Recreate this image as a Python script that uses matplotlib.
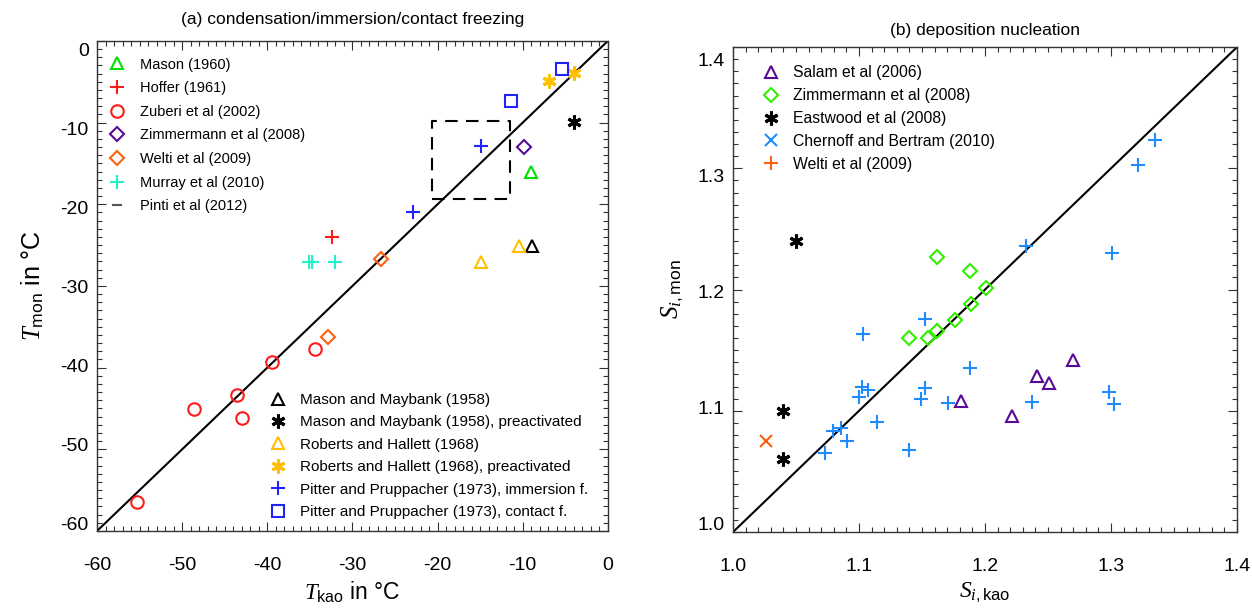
import matplotlib
matplotlib.use("Agg")
import matplotlib.pyplot as plt
import matplotlib.transforms as mtransforms
from matplotlib.lines import Line2D
from matplotlib.ticker import MultipleLocator

plt.rcParams['font.family'] = ['Liberation Sans', 'DejaVu Sans']
plt.rcParams['mathtext.fontset'] = 'custom'
plt.rcParams['mathtext.rm'] = 'Liberation Sans'
plt.rcParams['mathtext.it'] = 'Liberation Serif:italic'
plt.rcParams['mathtext.bf'] = 'Liberation Sans:bold'
plt.rcParams['axes.unicode_minus'] = False

# ---- panel (a): T_kao vs T_mon ----
mason60_x = [-9.0]
mason60_y = [-16.0]
hoffer_x = [-32.4]
hoffer_y = [-24.0]
zuberi_x = [-55.3, -48.6, -43.6, -43.0, -39.5, -34.4]
zuberi_y = [-56.4, -45.1, -43.4, -46.2, -39.3, -37.7]
zimm_a_x = [-9.9]
zimm_a_y = [-13.0]
welti_a_x = [-32.9, -26.7]
welti_a_y = [-36.3, -26.7]
murray_x = [-35.1, -34.7, -32.1]
murray_y = [-27.1, -27.1, -27.1]
pinti_box_x = [-20.6, -11.5]
pinti_box_y = [-19.3, -9.8]
mm58_x = [-8.9]
mm58_y = [-25.1]
mm58p_x = [-4.0]
mm58p_y = [-9.9]
rh68_x = [-10.4, -14.9]
rh68_y = [-25.1, -27.1]
rh68p_x = [-6.9, -4.0]
rh68p_y = [-4.9, -3.9]
pp_imm_x = [-14.9, -22.9]
pp_imm_y = [-12.9, -21.0]
pp_con_x = [-11.4, -5.4]
pp_con_y = [-7.4, -3.4]

# ---- panel (b): S_i,kao vs S_i,mon ----
salam_x = [1.181, 1.221, 1.241, 1.251, 1.270]
salam_y = [1.108, 1.096, 1.129, 1.123, 1.142]
zimm_b_x = [1.162, 1.188, 1.201, 1.189, 1.176, 1.162, 1.155, 1.140]
zimm_b_y = [1.227, 1.215, 1.201, 1.188, 1.175, 1.166, 1.160, 1.160]
eastwood_x = [1.050, 1.040, 1.040]
eastwood_y = [1.240, 1.100, 1.060]
chernoff_x = [1.2325, 1.301, 1.152, 1.1034, 1.1878, 1.1026, 1.1074, 1.0998,
              1.1524, 1.149, 1.1704, 1.237, 1.298, 1.3024, 1.114, 1.079,
              1.0857, 1.0902, 1.0733, 1.1399, 1.3347, 1.321]
chernoff_y = [1.2359, 1.230, 1.176, 1.163, 1.1355, 1.120, 1.117, 1.111,
              1.119, 1.1097, 1.106, 1.1075, 1.1157, 1.1056, 1.091, 1.0836,
              1.0855, 1.075, 1.065, 1.068, 1.323, 1.303]
welti_b_x = [1.026]
welti_b_y = [1.075]

GREEN = '#00e000'
RED = '#ff1a1a'
PURPLE = '#5a0a96'
ORANGE = '#ff6010'
CYAN = '#22f0c8'
GREY = '#555555'
YELLOW = '#ffc000'
BLUE = '#2222ff'
SKY = '#1e8cff'
LGREEN = '#33ee00'
ASTER = (6, 2, 0)


def pts(ax, x, y, marker, color, ms=9, mew=1.5):
    ax.plot(x, y, ls='none', marker=marker, ms=ms, mfc='none', mec=color,
            mew=mew, clip_on=False)


def handle(marker, color, ms=9, mew=1.5):
    return Line2D([], [], ls='none', marker=marker, ms=ms, mfc='none',
                  mec=color, mew=mew)


def style(ax, major, minor):
    ax.xaxis.set_major_locator(MultipleLocator(major))
    ax.xaxis.set_minor_locator(MultipleLocator(minor))
    ax.yaxis.set_major_locator(MultipleLocator(major))
    ax.yaxis.set_minor_locator(MultipleLocator(minor))
    ax.tick_params(which='both', direction='in', top=True, right=True,
                   width=0.8, color='#333333')
    ax.tick_params(which='major', length=6.5, labelsize=14)
    ax.tick_params(which='minor', length=3.6)
    ax.tick_params(axis='x', pad=19)
    ax.tick_params(axis='y', pad=6)
    for s in ax.spines.values():
        s.set_linewidth(1.0)
        s.set_color('#333333')


def squeeze_ylabels(fig, ax, top_off, bot_off):
    lo, hi = ax.get_ylim()
    for lab in ax.get_yticklabels():
        v = lab.get_position()[1]
        f = (v - lo) / (hi - lo)
        dy = bot_off + (top_off - bot_off) * f
        lab.set_transform(lab.get_transform() + mtransforms.ScaledTranslation(
            0, -dy / 100.0, fig.dpi_scale_trans))


fig = plt.figure(figsize=(12.52, 6.12), dpi=100)
ax1 = fig.add_axes([0.0775, 0.1324, 0.408, 0.8007])
ax2 = fig.add_axes([0.5855, 0.1307, 0.4026, 0.7925])

# panel (a)
ax1.set_xlim(-60, 0)
ax1.set_ylim(-60, 0)
ax1.plot([-60, 0], [-60, 0], color='k', lw=1.5)
ax1.plot([pinti_box_x[0], pinti_box_x[1], pinti_box_x[1], pinti_box_x[0], pinti_box_x[0]],
         [pinti_box_y[0], pinti_box_y[0], pinti_box_y[1], pinti_box_y[1], pinti_box_y[0]],
         color='k', lw=1.5, ls=(0, (6, 4)))
pts(ax1, mason60_x, mason60_y, '^', GREEN)
pts(ax1, hoffer_x, hoffer_y, '+', RED, 10)
pts(ax1, zuberi_x, zuberi_y, 'o', RED)
pts(ax1, zimm_a_x, zimm_a_y, 'D', PURPLE, 7)
pts(ax1, welti_a_x, welti_a_y, 'D', ORANGE, 7)
pts(ax1, murray_x, murray_y, '+', CYAN, 10)
pts(ax1, mm58_x, mm58_y, '^', 'k')
pts(ax1, mm58p_x, mm58p_y, ASTER, 'k', 10, 2.2)
pts(ax1, rh68_x, rh68_y, '^', YELLOW)
pts(ax1, rh68p_x, rh68p_y, ASTER, YELLOW, 10, 2.2)
pts(ax1, pp_imm_x, pp_imm_y, '+', BLUE, 10)
pts(ax1, pp_con_x, pp_con_y, 's', BLUE, 9)

leg1 = ax1.legend([handle('^', GREEN), handle('+', RED, 10), handle('o', RED),
                   handle('D', PURPLE, 7), handle('D', ORANGE, 7),
                   handle('+', CYAN, 10), handle('_', GREY, 7)],
                  ['Mason (1960)', 'Hoffer (1961)', 'Zuberi et al (2002)',
                   'Zimmermann et al (2008)', 'Welti et al (2009)',
                   'Murray et al (2010)', 'Pinti et al (2012)'],
                  loc='upper left', bbox_to_anchor=(0.01, 0.978), frameon=False,
                  fontsize=10.5, handlelength=1.2, handletextpad=1.0,
                  labelspacing=0.66, borderaxespad=0)
ax1.add_artist(leg1)
ax1.legend([handle('^', 'k'), handle(ASTER, 'k', 10, 2.2), handle('^', YELLOW),
            handle(ASTER, YELLOW, 10, 2.2), handle('+', BLUE, 10), handle('s', BLUE)],
           ['Mason and Maybank (1958)', 'Mason and Maybank (1958), preactivated',
            'Roberts and Hallett (1968)', 'Roberts and Hallett (1968), preactivated',
            'Pitter and Pruppacher (1973), immersion f.',
            'Pitter and Pruppacher (1973), contact f.'],
           loc='lower left', bbox_to_anchor=(0.325, 0.012), frameon=False,
           fontsize=11, handlelength=1.2, handletextpad=0.8,
           labelspacing=0.55, borderaxespad=0)

style(ax1, 10, 1)
ax1.set_title('(a) condensation/immersion/contact freezing', fontsize=12.5,
              pad=12, family=['Liberation Sans Narrow', 'Liberation Sans'])
ax1.set_xlabel(r'$T_{\mathrm{kao}}$ in °C', fontsize=16.5, labelpad=4)
ax1.set_ylabel(r'$T_{\mathrm{mon}}$ in °C', fontsize=18, labelpad=10)
squeeze_ylabels(fig, ax1, 9, -7)

# panel (b)
ax2.set_xlim(1.0, 1.4)
ax2.set_ylim(1.0, 1.4)
ax2.plot([1.0, 1.4], [1.0, 1.4], color='k', lw=1.5)
pts(ax2, salam_x, salam_y, '^', PURPLE)
pts(ax2, zimm_b_x, zimm_b_y, 'D', LGREEN, 7)
pts(ax2, eastwood_x, eastwood_y, ASTER, 'k', 10, 2.2)
pts(ax2, chernoff_x, chernoff_y, '+', SKY, 10)
pts(ax2, welti_b_x, welti_b_y, 'x', ORANGE, 8)

ax2.legend([handle('^', PURPLE), handle('D', LGREEN, 7), handle(ASTER, 'k', 10, 2.2),
            handle('x', SKY, 8), handle('+', ORANGE, 10)],
           ['Salam et al (2006)', 'Zimmermann et al (2008)', 'Eastwood et al (2008)',
            'Chernoff and Bertram (2010)', 'Welti et al (2009)'],
           loc='upper left', bbox_to_anchor=(0.045, 0.975), frameon=False,
           fontsize=11.3, handlelength=1.2, handletextpad=0.8,
           labelspacing=0.5, borderaxespad=0)

style(ax2, 0.1, 0.01)
ax2.set_xticks([1.0, 1.1, 1.2, 1.3, 1.4])
ax2.set_xticklabels(['1.0', '1.1', '1.2', '1.3', '1.4'])
ax2.set_yticks([1.0, 1.1, 1.2, 1.3, 1.4])
ax2.set_yticklabels(['1.0', '1.1', '1.2', '1.3', '1.4'])
ax2.set_title('(b) deposition nucleation', fontsize=12.5, pad=9,
              family=['Liberation Sans Narrow', 'Liberation Sans'])
ax2.set_xlabel(r'$S_{i,\mathrm{kao}}$', fontsize=17, labelpad=4)
ax2.set_ylabel(r'$S_{i,\mathrm{mon}}$', fontsize=18, labelpad=9)
squeeze_ylabels(fig, ax2, 12, -9)

fig.savefig('out.png', dpi=100)
